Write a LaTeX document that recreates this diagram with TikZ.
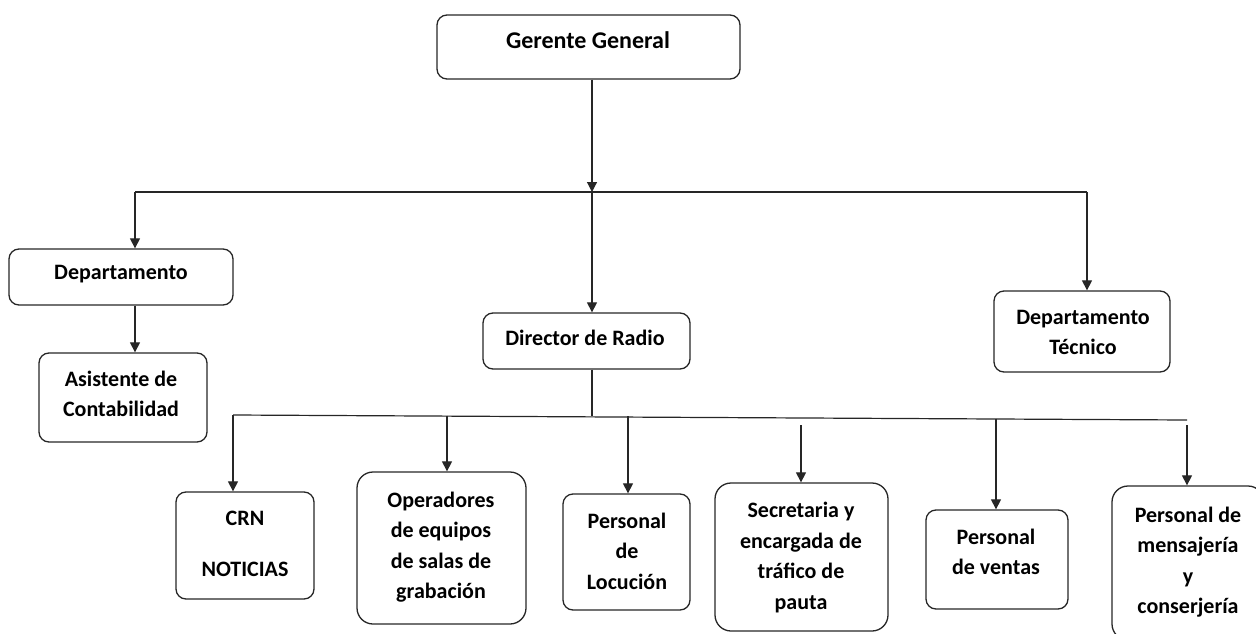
\documentclass[tikz,border=0pt]{standalone}
\usepackage{fontspec}
\setmainfont{Carlito}
\usetikzlibrary{arrows.meta}
\begin{document}
\begin{tikzpicture}[x=1pt,y=-1pt,
  box/.style={draw=black!85, line width=1.3pt, rounded corners=10pt, inner sep=0pt},
  bigbox/.style={box, rounded corners=16pt},
  lbl/.style={font=\fontsize{22}{30.5}\selectfont\bfseries, align=center, inner sep=0pt, text=black},
  conn/.style={draw=black!85, line width=1.2pt},
  arr/.style={conn, -{Triangle[width=10pt,length=10pt]}}]
\useasboundingbox (0,0) rectangle (1256,634);
\clip (0,0) rectangle (1256,634);

% boxes
\node[box, minimum width=303pt, minimum height=64pt] (gg) at (588.5,47) {};
\node[lbl, font=\fontsize{24}{30.5}\selectfont\bfseries] (ggt) at (588,40) {Gerente General};

\node[box, minimum width=224pt, minimum height=56pt] (dep) at (121,277) {};
\node[lbl] (dept) at (121,274) {Departamento};

\node[box, minimum width=168pt, minimum height=89pt] (asis) at (123,397.5) {};
\node[lbl] (asist) at (121,394) {Asistente de\\Contabilidad};

\node[box, minimum width=207pt, minimum height=56pt] (dir) at (586.5,341) {};
\node[lbl] (dirt) at (585,338) {Director de Radio};

\node[box, minimum width=176pt, minimum height=81pt] (tec) at (1082,331.5) {};
\node[lbl] (tect) at (1083,332.5) {Departamento\\Técnico};

\node[box, minimum width=138pt, minimum height=107pt] (crn) at (245,545.5) {};
\node[lbl] (crnt) at (245,544) {CRN\\[20pt]NOTICIAS};

\node[bigbox, minimum width=169pt, minimum height=152pt] (ope) at (441.5,548) {};
\node[lbl] (opet) at (441,547) {Operadores\\de equipos\\de salas de\\grabación};

\node[box, minimum width=127pt, minimum height=116pt] (loc) at (626.5,552) {};
\node[lbl] (loct) at (627,551) {Personal\\de\\Locución};

\node[bigbox, minimum width=173pt, minimum height=148pt] (sec) at (801.5,557) {};
\node[lbl] (sect) at (801,557.5) {Secretaria y\\encargada de\\tráfico de\\pauta};

\node[box, minimum width=142pt, minimum height=99pt] (ven) at (997,559.5) {};
\node[lbl] (vent) at (996,552) {Personal\\de ventas};

\node[bigbox, minimum width=152pt, minimum height=154pt] (men) at (1188,563) {};
\node[lbl] (ment) at (1188,562) {Personal de\\mensajería\\y\\conserjería};

% junctions
\coordinate (j1) at (592,192);
\coordinate (jl) at (135,192);
\coordinate (jr) at (1087,192);
\coordinate (j2) at (592,415.5);
\coordinate (bl) at (233,415);
\coordinate (br) at (1187,420);
\coordinate (bo) at (447,415.5);
\coordinate (bloc) at (628,416);
\coordinate (bsec) at (801,425);
\coordinate (bven) at (996,418.5);
\coordinate (bmen) at (1187,425);

% top level
\draw[arr] (j1 |- gg.south) -- (j1);
\draw[conn] (jl) -- (jr);
\draw[arr] (jl) -- (jl |- dep.north);
\draw[arr] (j1) -- (j1 |- dir.north);
\draw[arr] (jr) -- (jr |- tec.north);
\draw[arr] (jl |- dep.south) -- (jl |- asis.north);

% director level
\draw[conn] (j2 |- dir.south) -- (j2);
\draw[conn] (bl) -- (br);
\draw[arr] (bl) -- (bl |- crn.north);
\draw[arr] (bo) -- (bo |- ope.north);
\draw[arr] (bloc) -- (bloc |- loc.north);
\draw[arr] (bsec) -- (bsec |- sec.north);
\draw[arr] (bven) -- (bven |- ven.north);
\draw[arr] (bmen) -- (bmen |- men.north);
\end{tikzpicture}
\end{document}
